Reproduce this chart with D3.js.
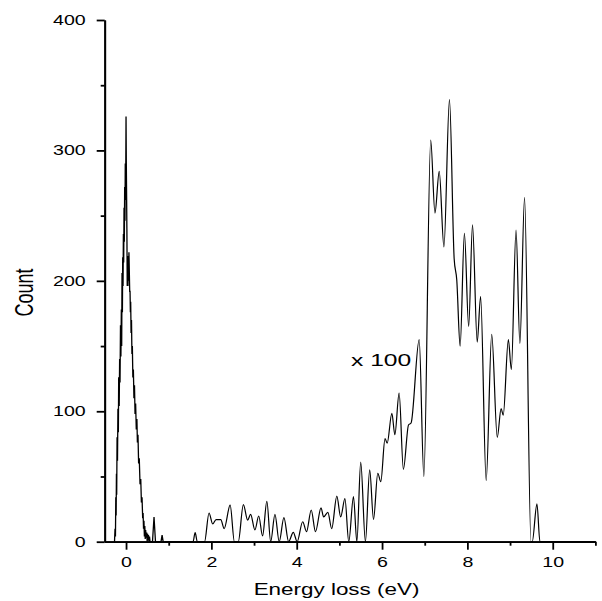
<!DOCTYPE html>
<html>
<head>
<meta charset="utf-8">
<script src="https://cdn.jsdelivr.net/npm/d3@7"></script>
<style>
  body { margin: 0; background: #fff; }
  svg text { font-family: "Liberation Sans", Arial, sans-serif; fill: #000; }
</style>
</head>
<body>
<svg id="chart" width="602" height="601"></svg>
<script>
// zero-loss peak, raw counts (noisy)
const zeroLossEnergy = [-0.27, -0.258, -0.248, -0.24, -0.232, -0.225, -0.219, -0.21, -0.2, -0.19, -0.18, -0.172, -0.16, -0.15,
  -0.141, -0.13, -0.12, -0.11, -0.102, -0.094, -0.085, -0.078, -0.07, -0.062, -0.055, -0.047, -0.04, -0.032, -0.025, -0.018,
  -0.01, -0.004, 0, 0.006, 0.012, 0.02, 0.028, 0.036, 0.044, 0.052, 0.06, 0.068, 0.078, 0.086, 0.094, 0.102, 0.109, 0.118,
  0.128, 0.138, 0.148, 0.16, 0.172, 0.185, 0.198, 0.211, 0.225, 0.24, 0.255, 0.266, 0.28, 0.295, 0.31, 0.328, 0.345, 0.36,
  0.375, 0.39, 0.4, 0.41, 0.42, 0.43, 0.44, 0.45, 0.46, 0.47, 0.484, 0.495, 0.505, 0.515, 0.525, 0.54, 0.55, 0.5625, 0.62,
  0.656, 0.69, 0.82, 0.845, 0.87, 0.9];
const zeroLossCount = [0, 10, 4, 34, 20, 52, 36, 80, 62, 102, 84, 126, 104, 140,
  122, 166, 142, 178, 150, 206, 176, 218, 196, 236, 214, 256, 230, 272, 246, 290,
  262, 300, 326, 292, 270, 240, 196, 218, 196, 219, 200, 222, 205, 192, 192, 176, 184, 160,
  170, 144, 150, 126, 132, 110, 120, 98, 106, 86, 94, 76, 82, 60, 64, 44, 48, 30,
  34, 18, 22, 10, 16, 4, 12, 2, 9, 3, 7, 0, 6, 1, 5, 0, 4, 0, 0,
  19, 0, 0, 5, 0, 0];

// energy-loss region, counts shown x 100
const lossEnergy = [0.9, 1.57, 1.62, 1.67, 1.84, 1.945, 2.03, 2.11, 2.22, 2.3, 2.44, 2.54, 2.63, 2.75, 2.85, 2.92, 3.02, 3.11,
  3.2, 3.3, 3.39, 3.49, 3.59, 3.7, 3.81, 3.92, 4.01, 4.14, 4.23, 4.34, 4.44, 4.57, 4.63, 4.73, 4.82, 4.94, 5.03, 5.13,
  5.22, 5.33, 5.41, 5.5, 5.61, 5.71, 5.8, 5.9, 5.97, 6.07, 6.12, 6.23, 6.3, 6.4, 6.5, 6.62, 6.68, 6.87, 6.98, 7.14, 7.24,
  7.34, 7.45, 7.58, 7.69, 7.75, 7.83, 7.93, 8.03, 8.12, 8.23, 8.31, 8.44, 8.57, 8.7, 8.79, 8.84, 8.96, 9.03, 9.14, 9.23,
  9.34, 9.49, 9.52, 9.63, 9.7, 11];
const lossCount = [0, 0, 7, 0, 0, 22, 13.6, 17, 17, 10, 28, 0, 0, 28.5, 16.6, 21, 9, 19.7,
  4.4, 31, 0, 21, 0, 18.4, 0, 7.2, 0, 15.3, 7.7, 24.3, 7.7, 26, 19, 22.5, 10, 35, 19, 33,
  0, 34.5, 0, 61, 0, 55, 17, 52.5, 46, 79, 75.5, 98.5, 82, 114, 55.5, 89.5, 91, 155, 50, 308, 252,
  284, 226, 339, 217, 201, 150, 236.5, 165, 243, 153, 188, 47, 159, 80, 102, 97, 155, 132, 239, 152,
  264, 0, 0, 29, 0, 0];

const xMajor = [0, 2, 4, 6, 8, 10];
const xMinor = [1, 3, 5, 7, 9, 11];
const yMajor = [0, 100, 200, 300, 400];
const yMinor = [50, 150, 250, 350];

const svg = d3.select("#chart");
const stretch = 1.4; // text in the original is widened

const x = d3.scaleLinear().domain([-0.5, 11]).range([104.7, 595.4]);
const y = d3.scaleLinear().domain([0, 400]).range([541.7, 20]);

// data lines
const lineRaw = d3.line().x(d => x(d[0])).y(d => y(d[1]));
const lineSmooth = d3.line().x(d => x(d[0])).y(d => y(d[1])).curve(d3.curveMonotoneX);

svg.append("path")
    .datum(d3.zip(zeroLossEnergy, zeroLossCount))
    .attr("d", lineRaw)
    .attr("fill", "none")
    .attr("stroke", "#000")
    .attr("stroke-width", 1.3);

svg.append("path")
    .datum(d3.zip(lossEnergy, lossCount))
    .attr("d", lineSmooth)
    .attr("fill", "none")
    .attr("stroke", "#000")
    .attr("stroke-width", 1.2);

// axes
const gx = svg.append("g").attr("transform", "translate(0," + y(0) + ")");
gx.call(d3.axisBottom(x).tickValues(xMajor).tickSize(8).tickSizeOuter(0));
gx.append("g").call(d3.axisBottom(x).tickValues(xMinor).tickSize(4).tickSizeOuter(0).tickFormat(""));

const gy = svg.append("g").attr("transform", "translate(" + x(-0.5) + ",0)");
gy.call(d3.axisLeft(y).tickValues(yMajor).tickSize(8).tickSizeOuter(0));
gy.append("g").call(d3.axisLeft(y).tickValues(yMinor).tickSize(4).tickSizeOuter(0).tickFormat(""));

svg.selectAll(".domain, .tick line").attr("stroke", "#000").attr("stroke-width", 1.8);

gx.selectAll(".tick text")
    .attr("y", 15)
    .attr("dy", "0.71em")
    .attr("font-size", 14)
    .attr("transform", `scale(${stretch},1)`);

gy.selectAll(".tick text")
    .attr("x", -19 / stretch)
    .attr("font-size", 14)
    .attr("transform", `scale(${stretch},1)`);

// labels
svg.append("text")
    .attr("transform", `translate(336.5,595) scale(1.32,1)`)
    .attr("text-anchor", "middle")
    .attr("font-size", 17)
    .text("Energy loss (eV)");

svg.append("text")
    .attr("transform", `translate(33,292.5) scale(${stretch},1) rotate(-90)`)
    .attr("text-anchor", "middle")
    .attr("font-size", 18)
    .text("Count");

svg.append("text")
    .attr("transform", `translate(351,366) scale(1.45,1)`)
    .attr("font-size", 17)
    .text("x 100");
</script>
</body>
</html>
